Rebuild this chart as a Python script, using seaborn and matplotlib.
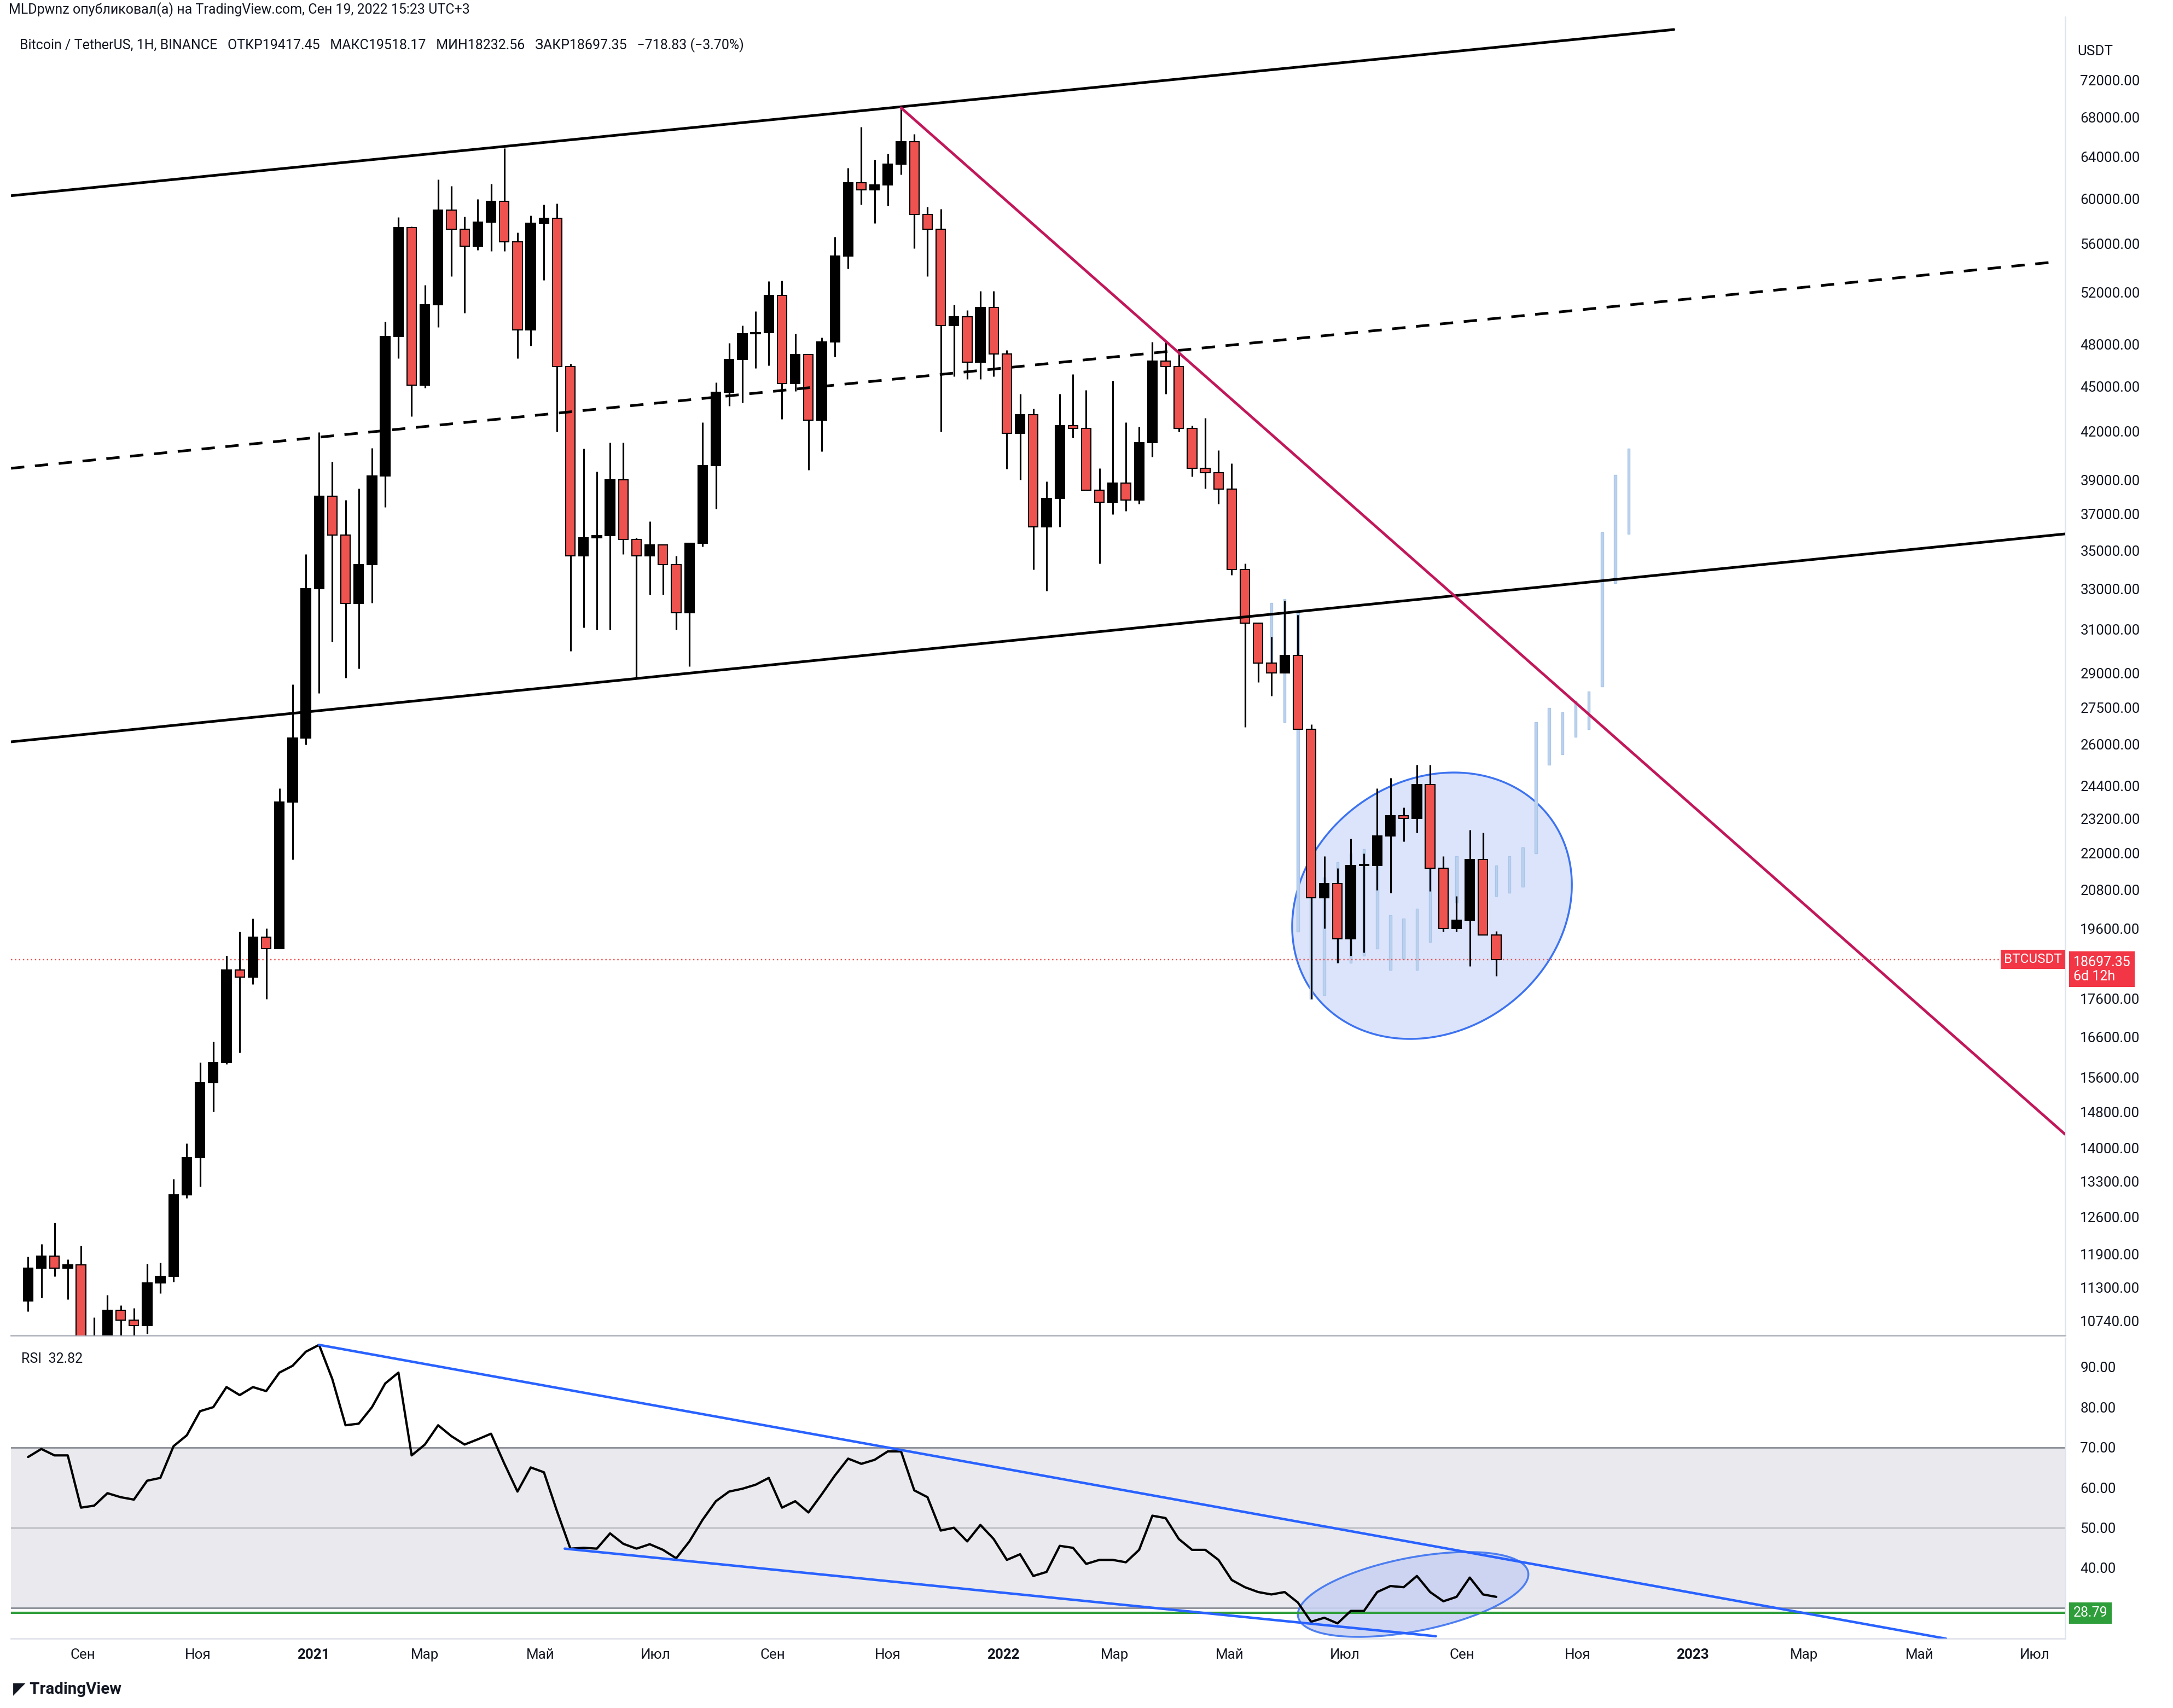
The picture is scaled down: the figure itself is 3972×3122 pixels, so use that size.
import numpy as np
import pandas as pd
import matplotlib
matplotlib.use('Agg')
import matplotlib.pyplot as plt
import matplotlib.dates as mdates
import matplotlib.transforms as mtransforms
import seaborn as sns

# weekly BTCUSDT candles (open, high, low, close)
opens = [11070, 11650, 11860, 11650, 11700, 10250, 10330, 10920, 10750, 10660, 11380, 11500,
         13030, 13800, 15480, 15960, 18400, 18200, 19350, 19000, 23800, 26250,
         33000, 38050, 35830, 32260, 34260, 39250, 48580, 57400, 45100, 51000, 59000, 57300,
         55800, 57900, 59770, 56200, 49100, 57800, 58240, 46400, 34700, 35700, 35800, 39000,
         35600, 34700, 35300, 34250, 31800, 35400, 39850, 44600, 46900, 48800, 48900, 51750,
         45200, 47250, 42750, 48200, 54950, 61500, 60850, 61300, 63300, 65500, 58600, 57300,
         49400, 50100, 46700, 50800,
         47300, 41900, 43100, 36300, 37900, 42400, 42200, 38400, 37700, 38800, 37800, 41300,
         46800, 46400, 42200, 39700, 39450, 38450, 34000, 31300, 29450, 29000, 29800, 26600,
         20550, 21000, 19300, 21590, 21600, 22600, 23300, 23200, 24450, 21500, 19600, 19850,
         21800, 19417]
highs = [11850, 12086, 12486, 11800, 12050, 10800, 11180, 11000, 10950, 11720, 11740, 13350,
         14100, 15960, 16480, 18800, 19500, 19900, 19600, 24300, 28500, 34800,
         41950, 40100, 37800, 38500, 40950, 49700, 58350, 57500, 52600, 61800, 61200, 58400,
         60000, 61400, 64850, 57000, 58500, 59500, 59600, 46600, 40900, 39500, 41300, 41300,
         35700, 36600, 35100, 34700, 35400, 42600, 45300, 48100, 49400, 50500, 52900, 52920,
         48800, 47300, 48500, 56600, 62900, 67000, 63700, 64300, 69000, 66300, 59300, 59100,
         51000, 50600, 52100, 52100,
         47600, 44500, 43500, 38900, 44500, 45850, 44750, 39700, 45400, 42600, 42300, 48200,
         48200, 47400, 42400, 42900, 40800, 40000, 34300, 31000, 30650, 32400, 31700, 26800,
         21900, 21500, 22500, 22000, 24300, 24700, 23600, 25200, 25200, 21900, 20600, 22800,
         22700, 19518]
lows = [10900, 11125, 11500, 11100, 9875, 9850, 10200, 10130, 10370, 10530, 11200, 11400,
        12960, 13200, 14800, 15920, 16200, 18000, 17600, 19000, 21800, 26000,
        28130, 30420, 28800, 29200, 32300, 37400, 47000, 43000, 44900, 49300, 53300, 50400,
        55500, 55400, 55400, 47000, 47900, 53000, 42000, 30000, 31100, 31000, 31000, 34800,
        28800, 32700, 32700, 31000, 29300, 35200, 37300, 43700, 43900, 46300, 46500, 42800,
        44700, 39600, 40750, 47100, 53900, 59500, 57800, 59400, 62300, 55600, 53300, 42000,
        45700, 45500, 45500, 45700,
        39650, 39000, 34000, 32900, 36300, 41600, 39450, 34300, 37000, 37200, 37600, 40400,
        44500, 42000, 39200, 38500, 37600, 33700, 26700, 28600, 28000, 29200, 28200, 17600,
        19600, 18600, 18800, 18900, 20800, 20700, 22400, 22700, 20750, 19500, 19500, 18500,
        19600, 18232]
closes = opens[1:] + [18697.35]

# projected bars pattern (high, low), pale blue
ghost_start = '2022-05-23'
ghost_high = [32300, 32500, 31900, 23700, 21200, 21700, 22000, 22150, 21700, 20000, 19900, 20200,
              22000, 21400, 21900, 21500, 21300, 21600, 21900, 22200, 26900, 27500, 27300, 27800,
              28200, 36000, 39300, 40900]
ghost_low = [29500, 26900, 19500, 17600, 17700, 18600, 18600, 18800, 19000, 18400, 18700, 18400,
             19200, 19600, 20400, 20700, 20500, 20600, 20700, 20900, 22000, 25200, 25600, 26300,
             26600, 28400, 33300, 35900]

# weekly RSI line
rsi_vals = [67.6, 69.6, 68.0, 68.0, 55.0, 55.5, 58.6, 57.6, 57.0, 61.7, 62.4, 70.3, 73.0, 79.0,
            80.0, 85.0, 83.0, 85.0, 84.0, 88.6, 90.3, 93.8, 95.5, 87.0, 75.5, 75.9, 80.0, 85.9,
            88.6, 68.0, 70.7, 75.5, 72.8, 70.7, 72.0, 73.4, 66.0, 59.0, 65.0, 63.8, 54.0, 44.8,
            45.0, 44.8, 48.6, 46.0, 44.8, 45.9, 44.5, 42.4, 46.6, 52.0, 56.6, 59.0, 59.7, 60.7,
            62.4, 55.0, 56.6, 53.8, 58.3, 63.0, 67.2, 65.9, 66.9, 69.0, 69.0, 59.3, 57.6, 49.3,
            50.0, 46.6, 50.7, 47.2, 42.0, 43.4, 38.0, 39.0, 45.5, 45.0, 41.0, 42.0, 42.0, 41.4,
            44.5, 53.0, 52.4, 47.2, 44.5, 44.5, 42.0, 37.0, 35.2, 34.0, 33.4, 34.0, 31.4, 26.6,
            27.6, 26.2, 29.3, 29.3, 34.0, 35.5, 35.2, 38.0, 34.0, 31.7, 32.8, 37.6, 33.4, 32.8]

price_ticks = [72000, 68000, 64000, 60000, 56000, 52000, 48000, 45000, 42000, 39000, 37000,
               35000, 33000, 31000, 29000, 27500, 26000, 24400, 23200, 22000, 20800, 19600,
               17600, 16600, 15600, 14800, 14000, 13300, 12600, 11900, 11300, 10740]
rsi_ticks = [90, 80, 70, 60, 50, 40]
month_dates = ['2020-09-01', '2020-11-01', '2021-01-01', '2021-03-01', '2021-05-01', '2021-07-01',
               '2021-09-01', '2021-11-01', '2022-01-01', '2022-03-01', '2022-05-01', '2022-07-01',
               '2022-09-01', '2022-11-01', '2023-01-01', '2023-03-01', '2023-05-01', '2023-07-01']
month_labels = ['Сен', 'Ноя', '2021', 'Мар', 'Май', 'Июл', 'Сен', 'Ноя', '2022', 'Мар', 'Май',
                'Июл', 'Сен', 'Ноя', '2023', 'Мар', 'Май', 'Июл']

last_price = 18697.35
rsi_last = 28.79

sns.set_style('white')
plt.rcParams['font.family'] = ['Roboto', 'DejaVu Sans']

RED = '#EF5350'
TXT = '#131722'
AXC = '#E0E3EB'
BLUE = '#2962FF'

fig = plt.figure(figsize=(3972 / 250, 3122 / 250), dpi=250)
ax = fig.add_axes([0.0051, 0.218, 0.9452, 0.772])
ax2 = fig.add_axes([0.0051, 0.0406, 0.9452, 0.176])

d = lambda s: mdates.date2num(pd.Timestamp(s))
dates = mdates.date2num(pd.date_range(end='2022-09-19', periods=len(opens), freq='W-MON'))
o = np.array(opens, float); c = np.array(closes, float)
h = np.array(highs, float); l = np.array(lows, float)
up = c >= o

# ghost bars
gd = mdates.date2num(pd.date_range(start=ghost_start, periods=len(ghost_high), freq='W-MON'))
ax.bar(gd, np.array(ghost_high) - np.array(ghost_low), bottom=ghost_low, width=1.3,
       color='#BBD2EE', edgecolor='#A9C5E8', linewidth=0.4, zorder=2)

# ellipse on price pane
t = np.linspace(0, 2 * np.pi, 300)
ex = d('2022-08-16') + 74 * np.cos(t)
ey = np.exp(np.log(20300) + 0.2017 * np.sin(t) + 0.032 * np.cos(t))
ax.fill(ex, ey, facecolor='#DCE4FB', edgecolor='#3D73F0', lw=1.0, zorder=1)

ax.vlines(dates, l, h, color='black', lw=0.9, zorder=3)
ax.bar(dates, np.maximum(np.abs(c - o), o * 0.002), bottom=np.minimum(o, c), width=5,
       color=np.where(up, 'black', RED), edgecolor='black', linewidth=0.6, zorder=4)

# trend lines
ax.plot([d('2020-07-25'), d('2022-12-22')], [60300, 77800], color='black', lw=1.4, zorder=5)
ax.plot([d('2020-07-25'), d('2023-07-17')], [26100, 35900], color='black', lw=1.4, zorder=5)
ax.plot([d('2020-07-25'), d('2023-07-13')], [39700, 54500], color='black', lw=1.4,
        ls=(0, (5, 4)), zorder=5)
ax.plot([d('2021-11-08'), d('2023-07-17')], [69000, 14300], color='#C2185B', lw=1.4, zorder=5)

ax.axhline(last_price, color=RED, lw=0.7, ls=(0, (1, 2)), zorder=2)

ax.set_yscale('log')
ax.set_ylim(10500, 79300)
xmin, xmax = d('2020-07-25'), d('2023-07-17')
ax.set_xlim(xmin, xmax)
ax.yaxis.tick_right()
ax.yaxis.set_major_locator(matplotlib.ticker.FixedLocator(price_ticks))
ax.yaxis.set_minor_locator(matplotlib.ticker.NullLocator())
ax.set_yticklabels([f'{v:.2f}' for v in price_ticks])
ax.tick_params(axis='y', length=0, pad=8, labelsize=7.5, labelcolor=TXT)
ax.set_xticks([])
for s in ['top', 'left']:
    ax.spines[s].set_visible(False)
ax.spines['right'].set_color(AXC)
ax.spines['bottom'].set_color('#B2B5BE')

tr = mtransforms.blended_transform_factory(ax.transAxes, ax.transData)
ax.text(0.9985, last_price, 'BTCUSDT', transform=tr, ha='right', va='center', fontsize=7,
        color='white', bbox=dict(boxstyle='square,pad=0.25', fc='#F23645', ec='none'))
ax.text(1.004, last_price * 0.985, '18697.35\n6d 12h', transform=tr, ha='left', va='center',
        fontsize=7.2, color='white', linespacing=1.1,
        bbox=dict(boxstyle='square,pad=0.3', fc='#F23645', ec='none'), clip_on=False)
ax.text(1.006, 1.0 - 0.026, 'USDT', transform=ax.transAxes, ha='left', va='center',
        fontsize=7.5, color=TXT)

# RSI pane
ax2.axhspan(30, 70, color='#E9E9EE', zorder=0)
for v in [70, 30]:
    ax2.axhline(v, color='#8A8D96', lw=0.8, zorder=1)
ax2.axhline(50, color='#B5B7BE', lw=0.7, zorder=1)
te = d('2022-08-06') + 61 * np.cos(t)
tyv = 33.4 + 9.3 * np.sin(t) + 5 * np.cos(t)
ax2.fill(te, tyv, facecolor='#C9D2F2', edgecolor='#3D73F0', lw=1.0, alpha=0.9, zorder=2)
ax2.axhline(rsi_last, color='#2E9E3A', lw=1.2, zorder=3)
rsi_dates = pd.date_range(end='2022-09-19', periods=len(rsi_vals), freq='W-MON')
sns.lineplot(x=mdates.date2num(rsi_dates), y=rsi_vals, ax=ax2, color='black', lw=1.2, zorder=4)
ax2.plot([d('2021-01-04'), d('2023-05-15')], [95.5, 22.4], color=BLUE, lw=1.3, zorder=5)
ax2.plot([d('2021-05-14'), d('2022-08-18')], [44.8, 23.0], color=BLUE, lw=1.3, zorder=5)
ax2.set_ylim(22.4, 97.2)
ax2.set_xlim(xmin, xmax)
ax2.yaxis.tick_right()
ax2.set_yticks(rsi_ticks)
ax2.set_yticklabels([f'{v:.2f}' for v in rsi_ticks])
ax2.tick_params(axis='y', length=0, pad=8, labelsize=7.5, labelcolor=TXT)
ax2.set_xticks([d(s) for s in month_dates])
ax2.set_xticklabels(month_labels)
ax2.tick_params(axis='x', length=0, pad=5, labelsize=7.5, labelcolor=TXT)
for lab in ax2.get_xticklabels():
    if lab.get_text().startswith('20'):
        lab.set_fontweight('bold')
for s in ['top', 'left']:
    ax2.spines[s].set_visible(False)
ax2.spines['right'].set_color(AXC)
ax2.spines['bottom'].set_color(AXC)
tr2 = mtransforms.blended_transform_factory(ax2.transAxes, ax2.transData)
ax2.text(1.004, rsi_last, f'{rsi_last:.2f}', transform=tr2, ha='left', va='center',
         fontsize=7.2, color='white', bbox=dict(boxstyle='square,pad=0.3', fc='#2E9E3A', ec='none'))
ax2.text(0.005, 0.93, 'RSI  32.82', transform=ax2.transAxes, fontsize=7.2, color=TXT,
         va='center')

fig.text(0.004, 0.9945, 'MLDpwnz опубликовал(а) на TradingView.com, Сен 19, 2022 15:23 UTC+3',
         fontsize=7.2, color=TXT, va='center')
fig.text(0.009, 0.9735, 'Bitcoin / TetherUS, 1H, BINANCE   ОТКР19417.45   МАКС19518.17   '
         'МИН18232.56   ЗАКР18697.35   −718.83 (−3.70%)', fontsize=7.2, color=TXT, va='center')
fig.text(0.006, 0.011, '◤ TradingView', fontsize=8.5, color=TXT, va='center', fontweight='bold')

fig.savefig('out.png', dpi=250, facecolor='white')
